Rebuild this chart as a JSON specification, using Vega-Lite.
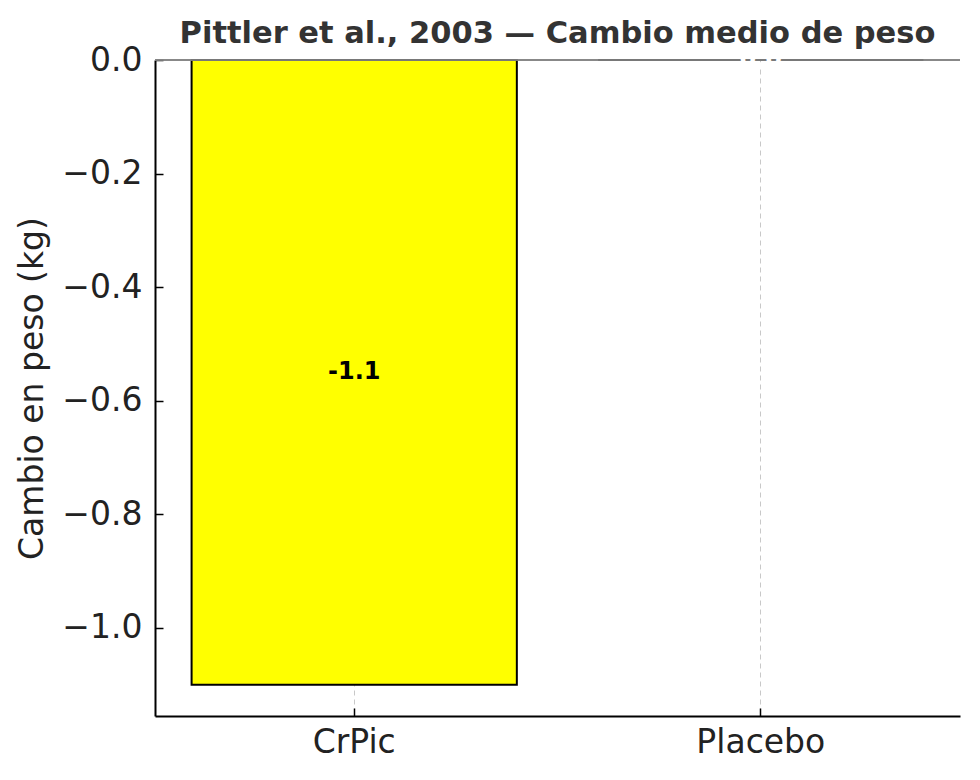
{
  "$schema": "https://vega.github.io/schema/vega-lite/v6.json",
  "autosize": "none",
  "width": 805,
  "height": 656,
  "padding": {"left": 155, "top": 60, "right": 20, "bottom": 64},
  "background": "white",
  "view": {"stroke": null},
  "config": {
    "font": "DejaVu Sans",
    "axis": {
      "labelFont": "DejaVu Sans",
      "titleFont": "DejaVu Sans",
      "labelFontSize": 33,
      "titleFontSize": 33,
      "titleFontWeight": "normal",
      "labelColor": "#222222",
      "titleColor": "#222222",
      "domainColor": "black",
      "domainWidth": 2,
      "tickColor": "black",
      "tickWidth": 1.5,
      "tickSize": -8,
      "labelPadding": 21
    }
  },
  "title": {
    "text": "Pittler et al., 2003 — Cambio medio de peso",
    "font": "DejaVu Sans",
    "fontSize": 30.5,
    "fontWeight": "bold",
    "color": "#333333",
    "anchor": "middle",
    "offset": -5
  },
  "data": {
    "values": [
      {"grupo": "CrPic", "cambio": -1.1, "etiqueta": "-1.1"},
      {"grupo": "Placebo", "cambio": 0.0, "etiqueta": "0.0"}
    ]
  },
  "encoding": {
    "x": {
      "field": "grupo",
      "type": "nominal",
      "sort": null,
      "title": null,
      "scale": {"paddingInner": 0.2, "paddingOuter": 0.09},
      "axis": {
        "labelAngle": 0,
        "grid": true,
        "gridColor": "#c8c8c8",
        "gridDash": [5, 4],
        "gridWidth": 1,
        "labelPadding": 18
      }
    }
  },
  "layer": [
    {
      "mark": {"type": "bar", "stroke": "black", "strokeWidth": 2},
      "encoding": {
        "y": {
          "field": "cambio",
          "type": "quantitative",
          "title": "Cambio en peso (kg)",
          "scale": {"domain": [-1.155, 0], "nice": false, "zero": false},
          "axis": {
            "values": [0, -0.2, -0.4, -0.6, -0.8, -1.0],
            "format": ".1f",
            "grid": false,
            "titlePadding": 12
          }
        },
        "color": {
          "field": "grupo",
          "type": "nominal",
          "scale": {"domain": ["CrPic", "Placebo"], "range": ["#ffff00", "#ffffff"]},
          "legend": null
        }
      }
    },
    {
      "mark": {"type": "rule", "color": "#808080", "strokeWidth": 1.5},
      "encoding": {
        "x": {"value": 0},
        "x2": {"value": 805},
        "y": {"datum": 0, "type": "quantitative"}
      }
    },
    {
      "transform": [{"calculate": "datum.cambio / 2", "as": "medio"}],
      "mark": {"type": "text", "fontSize": 24, "fontWeight": "bold", "font": "DejaVu Sans", "baseline": "middle"},
      "encoding": {
        "y": {"field": "medio", "type": "quantitative"},
        "text": {"field": "etiqueta"},
        "color": {
          "condition": {"test": "datum.grupo === 'CrPic'", "value": "black"},
          "value": "white"
        }
      }
    }
  ]
}
